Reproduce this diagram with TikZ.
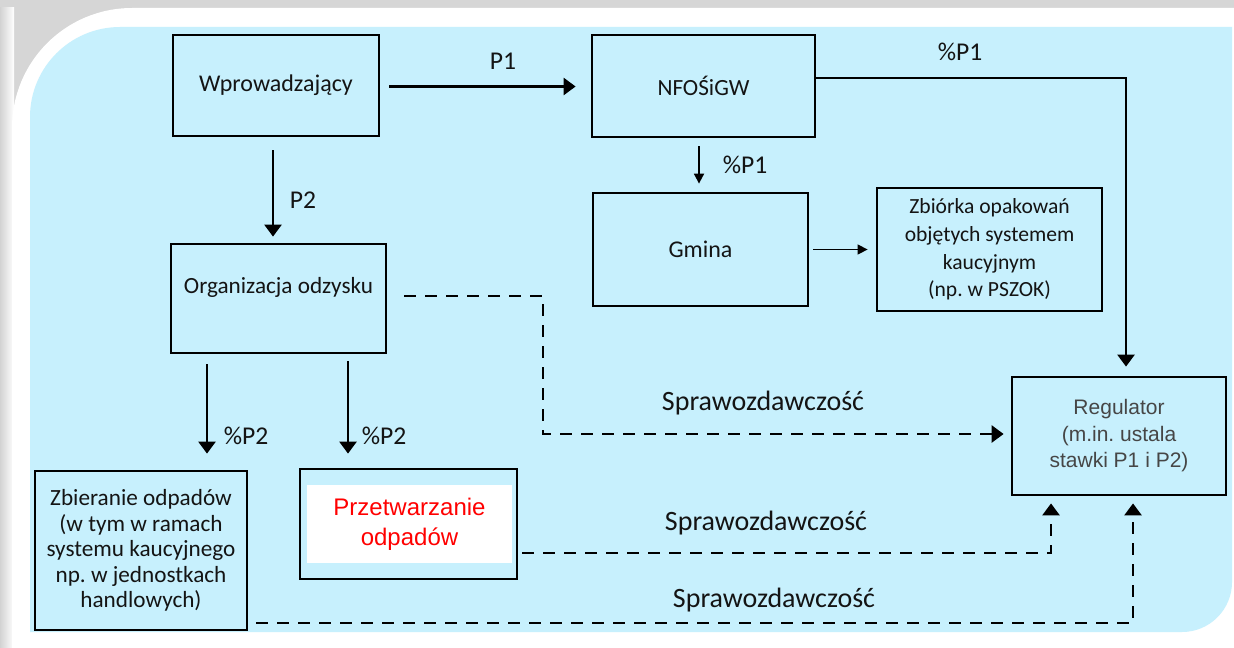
\documentclass[tikz,border=0pt]{standalone}
\usepackage{fontspec}
\setmainfont{Carlito}
\newfontfamily\arialfont{Liberation Sans}
\usepackage{xcolor}
\usepackage{tikz}
\usetikzlibrary{arrows.meta}
\usetikzlibrary{positioning}
\frenchspacing
\definecolor{bgblue}{RGB}{199,240,253}
\definecolor{framegray}{RGB}{214,214,214}
\definecolor{txtdark}{RGB}{20,20,20}
\definecolor{txtgray}{RGB}{70,70,70}
\tikzset{
    box/.style = {rectangle, draw=black, line width=1.4pt, align=center, inner sep=0pt, text=txtdark},
    boxtxt/.style = {font=\fontsize{12}{15}\selectfont},
    lbl/.style = {text=txtdark, font=\fontsize{12.8}{15}\selectfont},
    lblspr/.style = {text=txtdark, font=\fontsize{14}{16}\selectfont},
}
\begin{document}
\begin{tikzpicture}[
	x=0.5pt, y=-0.5pt,
	line join=miter
]
\tikzset{
    arr/.style = {-{Triangle[width=8.5pt,length=6pt]}, line width=1.3pt},
    arrthin/.style = {-{Triangle[width=5pt,length=5pt]}, line width=0.7pt},
    arrdash/.style = {arr, dash pattern=on 6pt off 4.5pt},
}
\useasboundingbox (0,0) rectangle (1234,647);
\clip (0,0) rectangle (1234,647);
% frame and background
\fill[framegray] (0,0) rectangle (1234,647);
\shade[left color=gray!35, right color=white] (0,8) rectangle (14,647);
\fill[white] (12,660) [rounded corners=60pt] -- (12,8) [sharp corners] -- (1260,8) -- (1260,647) [rounded corners=22pt] -- (1238,647) [sharp corners] -- (12,660) -- cycle;
\fill[white] (12,640) rectangle (1200,647);
\fill[bgblue] (30,632) [rounded corners=45pt] -- (30,27) [sharp corners] -- (1232,27) [rounded corners=25pt] -- (1232,632) [sharp corners] -- cycle;
%
\node[box, boxtxt, minimum width=103pt, minimum height=50.5pt] (wprow) at (276,85.5) {Wprowadzający};
\node[box, minimum width=111.5pt, minimum height=51pt, font=\fontsize{11.6}{13}\selectfont] (nfos) at (703.5,86) {NFOŚiGW};
\node[box, minimum width=107.5pt, minimum height=56.5pt, font=\fontsize{12}{13}\selectfont] (gmina) at (700.5,249.5) {Gmina};
\node[box, minimum width=112.5pt, minimum height=61.5pt, font=\fontsize{10.8}{13.8}\selectfont] (zbiorka) at (989.5,249.5) {Zbiórka opakowań\\objętych systemem\\kaucyjnym\\(np. w PSZOK)};
\node[box, minimum width=107.5pt, minimum height=54.5pt,
      label={[font=\fontsize{11.6}{15}\selectfont, text=txtdark, yshift=5.75pt]center:Organizacja odzysku}] (org) at (278.5,298.5) {};
\node[box, minimum width=107pt, minimum height=59pt, text=txtgray, font=\arialfont\fontsize{10.5}{13.25}\selectfont] (reg) at (1119,436) {Regulator\\(m.in. ustala\\stawki P1 i P2)};
\node[box, minimum width=106pt, minimum height=79.5pt, font=\fontsize{11.6}{12.75}\selectfont] (zbier) at (141,550.5) {Zbieranie odpadów\\(w tym w ramach\\systemu kaucyjnego\\np. w jednostkach\\handlowych)};
\node[box, minimum width=108.5pt, minimum height=55pt] (przetw) at (408.5,524) {};
\node[fill=white, inner sep=0pt, minimum width=102.5pt, minimum height=39pt, align=center, text=red, font=\arialfont\fontsize{12}{15}\selectfont] (przetwtxt) at (409.5,524) {Przetwarzanie\\odpadów};
%
\coordinate (sp) at (543,296);
%
\draw[arr, shorten <=4.5pt, shorten >=7.5pt] ([yshift=-0.5pt]wprow.east) -- ([yshift=-0.5pt]wprow.east -| nfos.west);
\draw[arr, shorten >=4.5pt] ([yshift=4pt]nfos.east) -| ([xshift=3.5pt]reg.north);
\draw[arrthin, line width=0.9pt, shorten <=4pt, shorten >=4pt] ([xshift=-2.25pt]nfos.south) -- ([xshift=-2.25pt]nfos.south |- gmina.north);
\draw[arrthin, shorten <=2pt, shorten >=4pt] (gmina.east) -- (zbiorka.west);
\draw[arr, shorten <=6.5pt, shorten >=3pt] ([xshift=-2.75pt]org.north |- wprow.south) -- ([xshift=-2.75pt]org.north);
\draw[arr, shorten <=5pt, shorten >=8pt] ([xshift=-35.75pt]org.south) -- ([xshift=-35.75pt]org.south |- zbier.north);
\draw[arr, shorten <=3.5pt, shorten >=7pt] ([xshift=34.75pt]org.south) -- ([xshift=34.75pt]org.south |- przetw.north);
%
\draw[arrdash, shorten <=8.5pt, shorten >=3.5pt] ([yshift=1.25pt]org.east) -- (sp) |- ([yshift=1pt]reg.west);
\draw[arrdash, shorten <=2pt, shorten >=3.5pt] ([yshift=-14.5pt]przetw.east) -| ([xshift=-34pt]reg.south);
\draw[arrdash, shorten <=4pt, shorten >=3.5pt] ([yshift=-36.25pt]zbier.east) -| ([xshift=7pt]reg.south);
%
\node[lbl] (lp1) at (503,61) {P1};
\node[lbl] (lpp1a) at (960,52) {\%P1};
\node[lbl] (lpp1b) at (745,165) {\%P1};
\node[lbl] (lp2) at (303,200) {P2};
\node[lbl] (lpp2a) at (246,436) {\%P2};
\node[lbl] (lpp2b) at (384,436) {\%P2};
\node[lblspr] (ls1) at (763,403) {Sprawozdawczość};
\node[lblspr] (ls2) at (766,523) {Sprawozdawczość};
\node[lblspr] (ls3) at (774,600) {Sprawozdawczość};
\end{tikzpicture}
\end{document}
